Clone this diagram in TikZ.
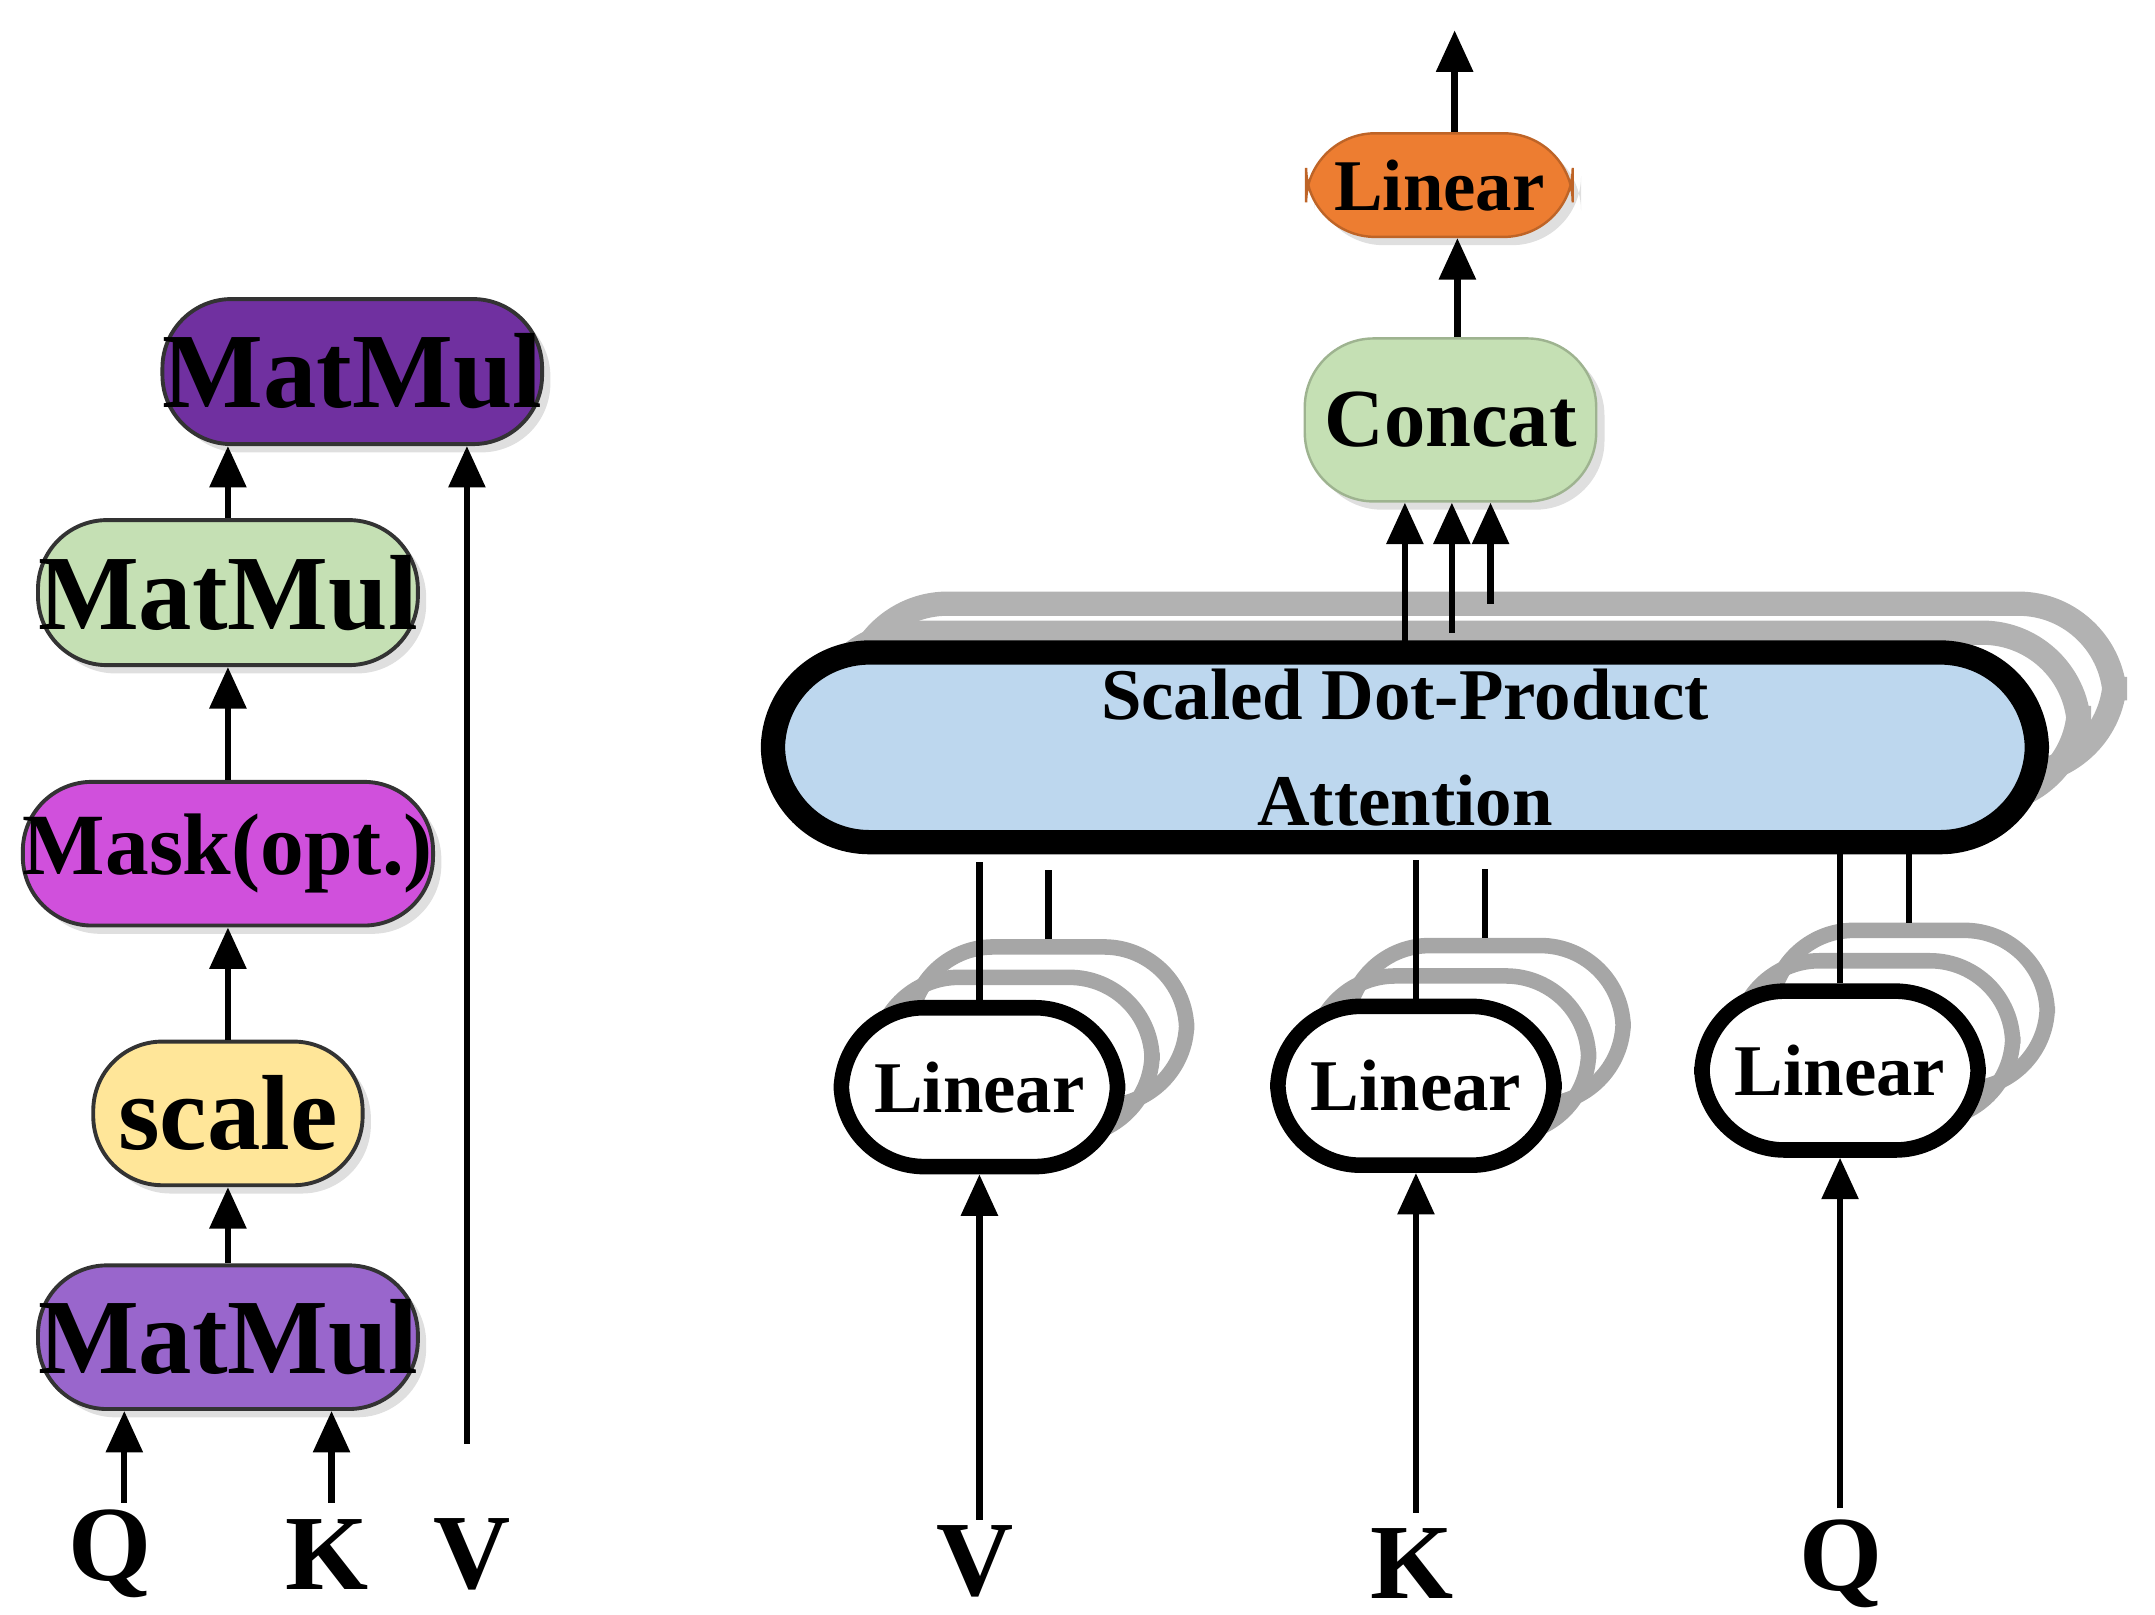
\documentclass[tikz,border=0pt]{standalone}
\usepackage{fontspec}
\setmainfont{Liberation Serif}
\usetikzlibrary{arrows.meta,shadows}
\definecolor{pdark}{HTML}{7030A0}
\definecolor{gr}{HTML}{C5E0B4}
\definecolor{mag}{HTML}{D050DC}
\definecolor{yel}{HTML}{FFE699}
\definecolor{plight}{HTML}{9966CC}
\definecolor{org}{HTML}{ED7D31}
\definecolor{blu}{HTML}{BDD7EE}
\begin{document}
\begin{tikzpicture}[x=0.1mm,y=-0.1mm,
 box/.style={draw=black!80,line width=0.8pt,rounded corners=5mm,inner sep=0,font=\bfseries,drop shadow={shadow xshift=0.6mm,shadow yshift=-0.6mm,opacity=0.25}},
 arr/.style={-{Triangle[length=3mm,width=2.6mm]},line width=1.3pt},
 ln/.style={line width=1.3pt},
 lin/.style={draw=black,line width=3.2pt,fill=white,rounded corners=6mm,minimum width=20mm,minimum height=11.5mm,font=\bfseries\fontsize{15}{18}\selectfont},
 gray/.style={draw=black!35,line width=3.2pt,rounded corners=6mm,minimum width=20mm,minimum height=11.5mm},
 lbl/.style={font=\bfseries\fontsize{22}{26}\selectfont}]
\useasboundingbox (0,0) rectangle (1560,1169);
% Left
\node[box,fill=pdark,minimum width=27.4mm,minimum height=10.5mm,font=\bfseries\fontsize{22}{26}\selectfont] (m3) at (255,269) {MatMul};
\node[box,fill=gr,minimum width=27.5mm,minimum height=10.5mm,font=\bfseries\fontsize{22}{26}\selectfont] (m2) at (165,429) {MatMul};
\node[box,fill=mag,minimum width=27.5mm,minimum height=10.4mm,font=\bfseries\fontsize{18}{22}\selectfont] (mask) at (165,618) {Mask(opt.)};
\node[box,fill=yel,minimum width=19.5mm,minimum height=10.4mm,font=\bfseries\fontsize{22}{26}\selectfont] (sc) at (165,806) {scale};
\node[box,fill=plight,minimum width=27.5mm,minimum height=10.4mm,font=\bfseries\fontsize{22}{26}\selectfont] (m1) at (165,968) {MatMul};
\node[lbl] (lq) at (80,1125) {Q};
\node[lbl] (lk) at (237,1125) {K};
\node[lbl] (lv) at (342,1125) {V};
\coordinate (q0) at (90,1088); \coordinate (k0) at (240,1088); \coordinate (v0) at (338,1045);
\draw[arr] (q0) -- (q0 |- m1.south);
\draw[arr] (k0) -- (k0 |- m1.south);
\draw[arr] (v0) -- (v0 |- m3.south);
\draw[arr] (m1.north) -- (sc.south);
\draw[arr] (sc.north) -- (mask.south);
\draw[arr] (mask.north) -- (m2.south);
\draw[arr] (m2.north) -- (m2.north |- m3.south);
% Right
\node[box,fill=org,draw=org!80!black,line width=0.5pt,minimum width=19.3mm,minimum height=7.5mm,font=\bfseries\fontsize{15}{18}\selectfont] (lo) at (1042,134) {Linear};
\node[box,fill=gr,draw=gr!80!black,line width=0.5pt,minimum width=21.1mm,minimum height=11.8mm,font=\bfseries\fontsize{17}{20}\selectfont] (cc) at (1050,304) {Concat};
\coordinate (top) at (1053,22);
\draw[arr] (lo.north -| top) -- (top);
\draw[arr] (cc.north -| 1055,0) -- (lo.south -| 1055,0);
% SDPA stack
\draw[draw=black!30,line width=5pt,rounded corners=7mm] (616,437) rectangle (1531,560);
\draw[draw=black!30,line width=5pt,rounded corners=7mm] (590,458) rectangle (1505,581);
\node[draw=black,line width=5pt,fill=blu,rounded corners=7mm,minimum width=91.5mm,minimum height=12.3mm,align=center,font=\bfseries\fontsize{15}{19}\selectfont] (sdpa) at (1017,541) {Scaled Dot-Product\\[1mm]Attention};
\coordinate (c1) at (1017,475); \coordinate (c2) at (1051,458); \coordinate (c3) at (1079,437);
\draw[arr] (c1) -- (c1 |- cc.south);
\draw[arr] (c2) -- (c2 |- cc.south);
\draw[arr] (c3) -- (c3 |- cc.south);
% Linear stacks
\foreach \n/\x/\y/\t in {lv/709/787/V,lk/1025/786/K,lq/1332/775/Q}{
  \node[gray] (\n b) at (\x+50,\y-44) {};
  \node[gray] (\n a) at (\x+25,\y-22) {};
  \node[lin] (\n) at (\x,\y) {Linear};
  \draw[ln] (\n.north) -- ++(0,-100);
  \draw[ln] (\n b.north) -- ++(0,-50);
}
\node[lbl] (iv) at (706,1130) {V};
\node[lbl] (ik) at (1022,1132) {K};
\node[lbl] (iq) at (1333,1132) {Q};
\coordinate (v1) at (709,1100); \coordinate (k1) at (1025,1095); \coordinate (q1) at (1332,1092);
\draw[arr] (v1) -- (lv.south);
\draw[arr] (k1) -- (lk.south);
\draw[arr] (q1) -- (lq.south);
\end{tikzpicture}
\end{document}
